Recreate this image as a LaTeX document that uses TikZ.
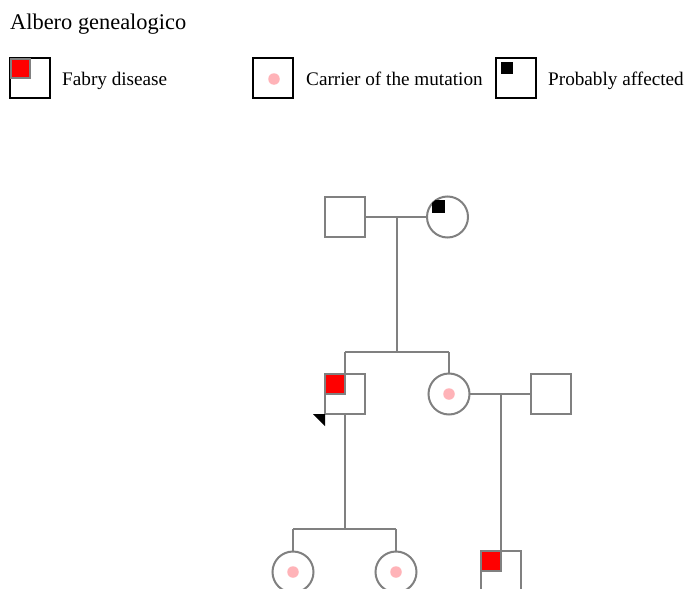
\documentclass[tikz,border=0pt]{standalone}
\usepackage{fontspec}
\setmainfont{Liberation Serif}
\definecolor{pedgray}{HTML}{808080}
\definecolor{carrierpink}{HTML}{FFB3B8}
\begin{document}
\begin{tikzpicture}[x=1pt,y=-1pt,
  legbox/.style={draw=black,line width=2pt,fill=white,minimum size=40pt,inner sep=0pt,outer sep=0pt},
  male/.style={draw=pedgray,line width=2pt,fill=white,minimum size=40pt,inner sep=0pt,outer sep=0pt},
  female/.style={draw=pedgray,line width=2pt,fill=white,circle,minimum size=41pt,inner sep=0pt,outer sep=0pt},
  affmark/.style={fill=red,draw=pedgray,line width=1.5pt},
  carrierdot/.style={fill=carrierpink,draw=none,circle,minimum size=11.5pt,inner sep=0pt},
  probmark/.style={fill=black},
  conn/.style={draw=pedgray,line width=2pt},
  legtext/.style={anchor=base west,inner sep=0pt,font=\fontsize{19.2}{23}\selectfont},
  titletext/.style={anchor=base west,inner sep=0pt,font=\fontsize{22.4}{27}\selectfont}]
\useasboundingbox[fill=white] (0,0) rectangle (686,589);
\clip (0,0) rectangle (686,589);

% title
\node[titletext] (title) at (10,29) {Albero genealogico};

% legend
\node[legbox] (lg1) at (30,78) {};
\filldraw[affmark] (11,59) rectangle (30,78);
\node[legtext] (lt1) at (62,85) {Fabry disease};
\node[legbox] (lg2) at (273,78) {};
\node[carrierdot] (ld2) at (274,79) {};
\node[legtext] (lt2) at (306,85) {Carrier of the mutation};
\node[legbox] (lg3) at (516,78) {};
\fill[probmark] (501,62) rectangle (513,74);
\node[legtext] (lt3) at (548,85) {Probably affected};

% generation I
\node[male] (f1) at (345,217) {};
\node[female] (m1) at (447.5,217) {};
\begin{scope}
  \clip (447.5,217) circle (20.8);
  \fill[probmark] (432,200) rectangle (445,213);
\end{scope}
\coordinate (u1) at (397,217);
\coordinate (s1) at (397,352);
\coordinate (s1l) at (345,352);
\coordinate (s1r) at (449,352);
\draw[conn] (f1.east) -- (m1.west);
\draw[conn] (u1) -- (s1);
\draw[conn] (s1l) -- (s1r);

% generation II
\node[male] (son) at (345,394) {};
\filldraw[affmark] (325,374) rectangle (345,394);
\draw[pedgray,line width=2pt] (325,374) rectangle (365,414);
\fill[black] (313,414) -- (325,414) -- (325,426) -- cycle;
\node[female] (dau) at (449,394) {};
\node[carrierdot] (dd) at (449,394) {};
\node[male] (hus) at (551,394) {};
\draw[conn] (s1l) -- (son.north);
\draw[conn] (s1r) -- (dau.north);
\draw[conn] (dau.east) -- (hus.west);
\coordinate (u2) at (501,394);

% generation III
\coordinate (s2) at (345,529);
\coordinate (s2l) at (293,529);
\coordinate (s2r) at (396,529);
\draw[conn] (son.south) -- (s2);
\draw[conn] (s2l) -- (s2r);
\node[female] (g1) at (293,572) {};
\node[carrierdot] (g1d) at (293,572) {};
\node[female] (g2) at (396,572) {};
\node[carrierdot] (g2d) at (396,572) {};
\draw[conn] (s2l) -- (g1.north);
\draw[conn] (s2r) -- (g2.north);
\node[male] (g3) at (501,571) {};
\filldraw[affmark] (481,551) rectangle (501,571);
\draw[pedgray,line width=2pt] (481,551) rectangle (521,591);
\draw[conn] (u2) -- (g3.north);
\end{tikzpicture}
\end{document}
